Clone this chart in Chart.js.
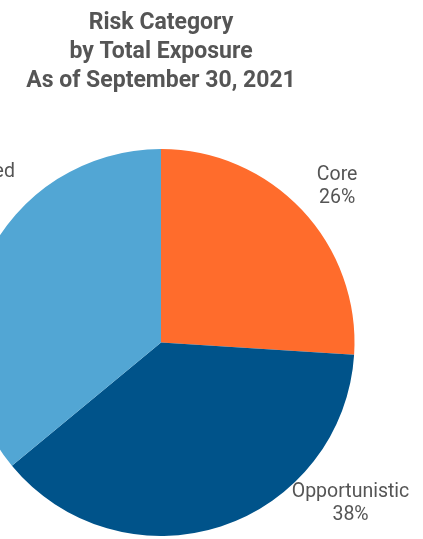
<!DOCTYPE html>
<html>
<head>
<meta charset="utf-8">
<script src="https://cdn.jsdelivr.net/npm/chart.js@4.4.1/dist/chart.umd.min.js"></script>
<style>
  html, body { margin: 0; padding: 0; background: #fff; overflow: hidden; }
  body { width: 423px; height: 539px; position: relative; }
  #wrap { position: absolute; left: -89px; top: 0; width: 500px; height: 536px; }
</style>
</head>
<body>
<div id="wrap"><canvas id="chart"></canvas></div>
<script>
// Risk category breakdown by total exposure
const categories = ['Core', 'Opportunistic', 'Value-Added'];
const shares = [26, 38, 36];
const sliceColors = ['#FF6C2C', '#00538A', '#52A6D4'];
const titleLines = ['Risk Category', 'by Total Exposure', 'As of September 30, 2021'];

// Outside labels: angle (deg, clockwise from top) and gap beyond the rim
const labelPlacement = [
  { angle: 48.4, gap: 42 },
  { angle: 130.3, gap: 55 },
  { angle: 308.4, gap: 63 }
];

const outsideLabels = {
  id: 'outsideLabels',
  afterDatasetsDraw(chart) {
    const ctx = chart.ctx;
    const meta = chart.getDatasetMeta(0);
    const data = chart.data.datasets[0].data;
    ctx.save();
    ctx.fillStyle = '#555555';
    ctx.font = '19.5px Roboto';
    ctx.textAlign = 'center';
    ctx.textBaseline = 'middle';
    meta.data.forEach((arc, i) => {
      const p = labelPlacement[i];
      const a = (p.angle - 90) * Math.PI / 180;
      const d = arc.outerRadius + p.gap;
      const x = arc.x + Math.cos(a) * d;
      const y = arc.y + Math.sin(a) * d;
      ctx.fillText(chart.data.labels[i], x, y - 11.5);
      ctx.fillText(data[i] + '%', x, y + 11.5);
    });
    ctx.restore();
  }
};

new Chart(document.getElementById('chart'), {
  type: 'pie',
  data: {
    labels: categories,
    datasets: [{
      data: shares,
      backgroundColor: sliceColors,
      borderWidth: 0
    }]
  },
  options: {
    responsive: true,
    maintainAspectRatio: false,
    animation: false,
    layout: { padding: 0 },
    plugins: {
      legend: { display: false },
      tooltip: { enabled: false },
      title: {
        display: true,
        text: titleLines,
        color: '#555555',
        font: { family: 'Roboto', size: 23, weight: 'bold', lineHeight: 29 / 23 },
        padding: { top: 9, bottom: 53 }
      }
    }
  },
  plugins: [outsideLabels]
});
</script>
</body>
</html>
